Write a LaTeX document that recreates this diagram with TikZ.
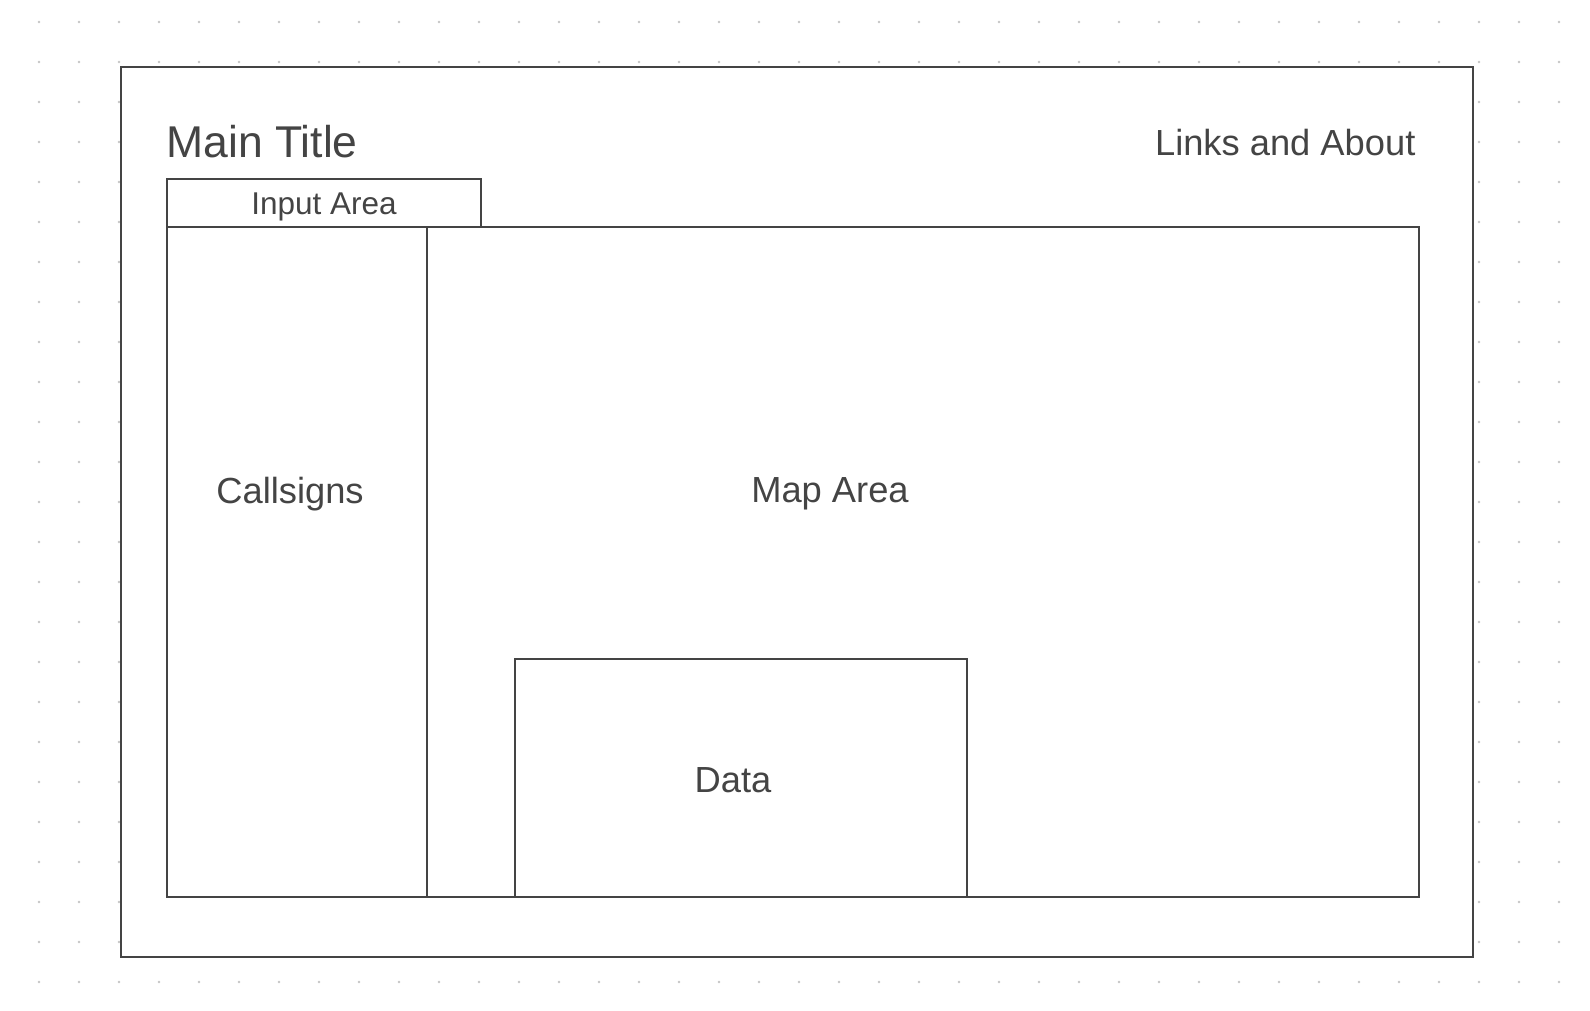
\documentclass[tikz,border=0pt]{standalone}
\usepackage{fontspec}
\setmainfont{Liberation Sans}
\definecolor{ink}{HTML}{444444}
\definecolor{griddot}{HTML}{C4C4C4}
\begin{document}
\begin{tikzpicture}[x=1pt,y=-1pt,
    panel/.style={draw=ink,line width=2pt,inner sep=0pt,outer sep=0pt},
    caption/.style={text=ink,inner sep=0pt,font=\fontsize{36.3}{40}\selectfont}]
  \useasboundingbox (0,0) rectangle (1590,1010);
  \foreach \i in {0,...,38}
    \foreach \j in {0,...,24}
      \fill[griddot] (39+40*\i,22+40*\j) circle (1.3);
  \node[panel,fill=white,minimum width=1351.8pt,minimum height=889.8pt] (page) at (796.6,511.6) {};
  \node[panel,minimum width=314.3pt,minimum height=47.7pt] (input) at (323.85,202.85) {};
  \node[panel,minimum width=260pt,minimum height=669.8pt] (calls) at (296.7,561.6) {};
  \node[panel,minimum width=991.9pt,minimum height=669.8pt] (map) at (922.65,561.6) {};
  \node[panel,minimum width=452.2pt,minimum height=237.4pt] (data) at (741.2,777.8) {};
  \draw
    (166.3,157.5) node[caption,anchor=base west,font=\fontsize{44.5}{48}\selectfont] (title) {Main Title}
    (1415.6,155.7) node[caption,anchor=base east] (links) {Links and About}
    (324,214.3) node[caption,anchor=base,font=\fontsize{31.5}{36}\selectfont] (inputtext) {Input Area}
    (290,503) node[caption,anchor=base] (callstext) {Callsigns}
    (830,502) node[caption,anchor=base] (maptext) {Map Area}
    (733,792.7) node[caption,anchor=base] (datatext) {Data};
\end{tikzpicture}
\end{document}
